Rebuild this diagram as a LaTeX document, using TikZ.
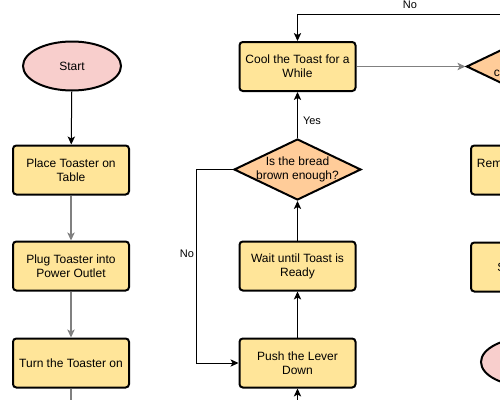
\documentclass[tikz,border=0pt]{standalone}
\usepackage{fontspec}
\setmainfont{Liberation Sans}
\usetikzlibrary{shapes.geometric,arrows.meta}
\definecolor{rectfill}{HTML}{FFE599}
\definecolor{diafill}{HTML}{FFCC99}
\definecolor{ellfill}{HTML}{F8CECC}
\definecolor{conngray}{HTML}{808080}
\begin{document}
\begin{tikzpicture}[x=0.75pt,y=-0.75pt,
  every node/.style={font=\fontsize{9pt}{10.5pt}\selectfont},
  stepbox/.style={draw=black, line width=1.5pt, fill=rectfill, rounded corners=2.5pt,
    minimum width=87pt, minimum height=36.75pt, align=center, inner sep=0pt},
  termnode/.style={draw=black, line width=1.5pt, fill=ellfill, ellipse,
    minimum width=73.5pt, minimum height=36.75pt, inner sep=0pt},
  decision/.style={draw=black, line width=1.5pt, fill=diafill, diamond,
    minimum width=95.25pt, minimum height=45.75pt, inner sep=0pt},
  dectext/.style={align=center, inner sep=0pt},
  lbl/.style={inner sep=0pt, font=\fontsize{8.25pt}{10pt}\selectfont},
  tip/.style={-{Stealth[length=6pt,width=5.5pt,inset=1.5pt]}},
  blk/.style={draw=black, line width=0.75pt, tip},
  gry/.style={draw=conngray, line width=1pt, tip},
  gryline/.style={draw=conngray, line width=1pt},
]
\useasboundingbox (0,0) rectangle (500,400);
\clip (0,0) rectangle (500,400);

% left column
\node[termnode] (start) at (72,66) {Start};
\node[stepbox] (place) at (71,170) {Place Toaster on\\Table};
\node[stepbox] (plug) at (71,266) {Plug Toaster into\\Power Outlet};
\node[stepbox] (turn) at (71,363) {Turn the Toaster on};
\coordinate (turnout) at (71,420);

% middle column
\node[stepbox] (cool) at (297.5,66.5) {Cool the Toast for a\\While};
\node[decision] (dia) at (297.5,169.5) {};
\node[dectext] (diatext) at (dia.center) {Is the bread\\brown enough?};
\node[stepbox] (wait) at (297.5,266) {Wait until Toast is\\Ready};
\node[stepbox] (push) at (297.5,363) {Push the Lever\\Down};
\coordinate (pushin) at (297.5,420);

% right column (cropped)
\node[decision] (rdia) at (530,66.5) {};
\node[dectext] (rdiatext) at (rdia.center) {Is the Toast\\cool enough?};
\node[stepbox] (rem) at (529,170) {Remove Toast from\\Toaster};
\node[stepbox] (serve) at (529,267) {Serve Toast};
\node[termnode] (endn) at (530,362) {End};

% connectors
\draw[blk] (start) -- (place);
\draw[gry] (place) -- (plug);
\draw[gry] (plug) -- (turn);
\draw[gryline] (turn.south) -- (turnout);
\draw[blk] (pushin) -- (push.south);
\draw[blk] (push) -- (wait);
\draw[blk] (wait) -- (dia);
\draw[blk] (dia) -- (cool);
\node[lbl] (yeslbl) at (312,121) {Yes};
\draw[blk] (dia.west) -- ++(-37,0) |- (push.west);
\node[lbl, fill=white] (nolbl) at (187,254) {No};
\draw[gry] (cool) -- (rdia);
\draw[blk] (rdia.north) -- (rdia.north |- 0,14) -| (cool.north);
\node[lbl] (nolbl2) at (410,5) {No};
\end{tikzpicture}
\end{document}
